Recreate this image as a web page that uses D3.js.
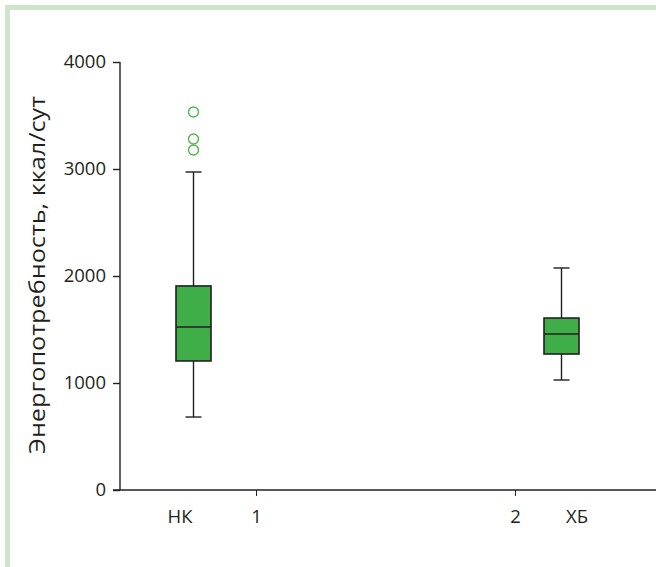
<!DOCTYPE html>
<html><head><meta charset="utf-8">
<script src="https://cdn.jsdelivr.net/npm/d3@7"></script>
<style>body{margin:0;background:#fff}svg{display:block}text{font-family:"Open Sans","Noto Sans",sans-serif;fill:#231f20}</style>
</head><body><div id="c"></div>
<script>
const categories = ["НК", "ХБ"];
const groupTicks = [1, 2];
const whiskerLow = [682, 1028];
const q1 = [1206, 1271];
const median = [1523, 1458];
const q3 = [1907, 1607];
const whiskerHigh = [2972, 2075];
const outliers = [[3178, 3280, 3533], []];
const yTicks = [0, 1000, 2000, 3000, 4000];
const yLabel = "Энергопотребность, ккал/сут";

const W = 656, H = 567;
const svg = d3.select("#c").append("svg").attr("width", W).attr("height", H);
// frame
svg.append("rect").attr("x",5).attr("y",5).attr("width",W-5).attr("height",5).attr("fill","#cde6c9");
svg.append("rect").attr("x",5).attr("y",5).attr("width",5).attr("height",H-5).attr("fill","#cde6c9");

const y = d3.scaleLinear().domain([0,4000]).range([490,62]);
const x = d3.scaleLinear().domain([1,2]).range([256,515]);
const xc = d3.scaleOrdinal().domain(categories).range([193.5,561.5]);

// y axis
const ya = svg.append("g").attr("transform","translate(120,0)")
  .call(d3.axisLeft(y).tickValues(yTicks).tickSize(7).tickPadding(7).tickFormat(d3.format("d")));
ya.select(".domain").remove();
ya.append("line").attr("x1",0).attr("x2",0).attr("y1",y(4000)).attr("y2",y(0)).attr("stroke","#231f20").attr("stroke-width",1.4);
ya.selectAll(".tick line").attr("stroke","#231f20").attr("stroke-width",1.4);
ya.selectAll(".tick text").style("font-size","18.5px").attr("fill","#231f20");

// x axis
const xa = svg.append("g").attr("transform","translate(0,490)")
  .call(d3.axisBottom(x).tickValues(groupTicks).tickSize(6).tickFormat(d3.format("d")));
xa.select(".domain").remove();
xa.append("line").attr("x1",113).attr("x2",W).attr("y1",0).attr("y2",0).attr("stroke","#231f20").attr("stroke-width",1.4);
xa.selectAll(".tick line").attr("stroke","#231f20").attr("stroke-width",1);
xa.selectAll(".tick text").style("font-size","18.5px").attr("fill","#231f20").attr("y",33).attr("dy",0);

// category labels
svg.selectAll(".cat").data(categories).enter().append("text")
  .attr("x",(d,i)=> i===0 ? 180 : 577).attr("y",523).attr("text-anchor","middle")
  .style("font-size","18.5px").text(d=>d);

// y label
svg.append("text").attr("transform","translate(45,275) rotate(-90)").attr("text-anchor","middle")
  .style("font-size","21px").attr("textLength",358).attr("lengthAdjust","spacingAndGlyphs").text(yLabel);

const bw = 35, cw = 16;
const g = svg.selectAll(".box").data(categories).enter().append("g");
g.append("line").attr("x1",d=>xc(d)).attr("x2",d=>xc(d))
  .attr("y1",(d,i)=>y(whiskerHigh[i])).attr("y2",(d,i)=>y(whiskerLow[i])).attr("stroke","#231f20").attr("stroke-width",1.4);
g.append("line").attr("x1",d=>xc(d)-cw/2).attr("x2",d=>xc(d)+cw/2)
  .attr("y1",(d,i)=>y(whiskerHigh[i])).attr("y2",(d,i)=>y(whiskerHigh[i])).attr("stroke","#231f20").attr("stroke-width",1.4);
g.append("line").attr("x1",d=>xc(d)-cw/2).attr("x2",d=>xc(d)+cw/2)
  .attr("y1",(d,i)=>y(whiskerLow[i])).attr("y2",(d,i)=>y(whiskerLow[i])).attr("stroke","#231f20").attr("stroke-width",1.4);
g.append("rect").attr("x",d=>xc(d)-bw/2).attr("width",bw)
  .attr("y",(d,i)=>y(q3[i])).attr("height",(d,i)=>y(q1[i])-y(q3[i]))
  .attr("fill","#3fae49").attr("stroke","#231f20").attr("stroke-width",1.6);
g.append("line").attr("x1",d=>xc(d)-bw/2).attr("x2",d=>xc(d)+bw/2)
  .attr("y1",(d,i)=>y(median[i])).attr("y2",(d,i)=>y(median[i])).attr("stroke","#231f20").attr("stroke-width",1.6);
g.each(function(d,i){
  d3.select(this).selectAll("circle").data(outliers[i]).enter().append("circle")
    .attr("cx",xc(d)).attr("cy",v=>y(v)).attr("r",5)
    .attr("fill","none").attr("stroke","#4cb84f").attr("stroke-width",1.4);
});
</script></body></html>
